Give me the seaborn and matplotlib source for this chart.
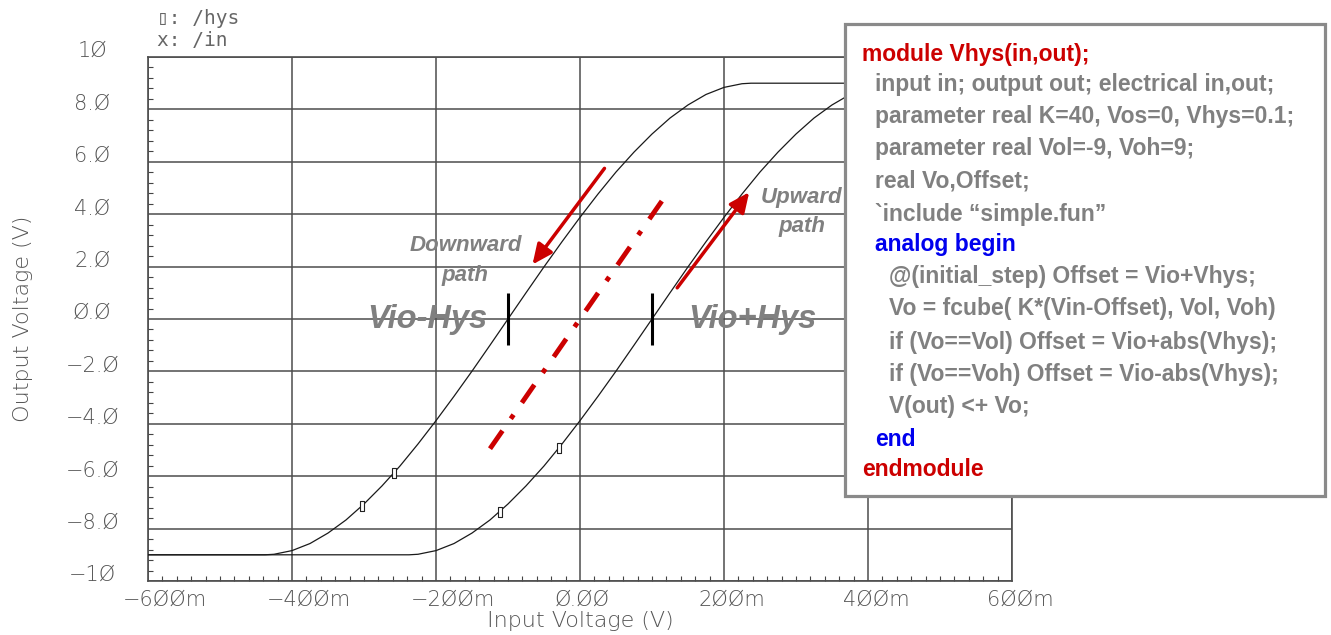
import numpy as np
import pandas as pd
import matplotlib
matplotlib.use("Agg")
import matplotlib.pyplot as plt
import matplotlib.patches as patches
import matplotlib.transforms as mtransforms
from matplotlib.ticker import MultipleLocator, FixedLocator
import seaborn as sns

# hysteresis curves (input V, output V)
down_x = [-0.6, -0.4375, -0.425, -0.4, -0.375, -0.35, -0.325, -0.3, -0.275, -0.25, -0.225,
          -0.2, -0.175, -0.15, -0.125, -0.1, -0.075, -0.05, -0.025, 0.0, 0.025, 0.05,
          0.075, 0.1, 0.125, 0.15, 0.175, 0.2, 0.225, 0.2375, 0.6]
down_y = [-9.0, -9.0, -8.98, -8.84, -8.57, -8.17, -7.67, -7.06, -6.37, -5.61, -4.77,
          -3.88, -2.95, -1.99, -1.0, 0.0, 1.0, 1.99, 2.95, 3.88, 4.77, 5.61,
          6.37, 7.06, 7.67, 8.17, 8.57, 8.84, 8.98, 9.0, 9.0]
up_x = [-0.6, -0.2375, -0.225, -0.2, -0.175, -0.15, -0.125, -0.1, -0.075, -0.05, -0.025,
        0.0, 0.025, 0.05, 0.075, 0.1, 0.125, 0.15, 0.175, 0.2, 0.225, 0.25,
        0.275, 0.3, 0.325, 0.35, 0.375, 0.4, 0.425, 0.4375, 0.6]
up_y = [-9.0, -9.0, -8.98, -8.84, -8.57, -8.17, -7.67, -7.06, -6.37, -5.61, -4.77,
        -3.88, -2.95, -1.99, -1.0, 0.0, 1.0, 1.99, 2.95, 3.88, 4.77, 5.61,
        6.37, 7.06, 7.67, 8.17, 8.57, 8.84, 8.98, 9.0, 9.0]

# small square markers on the /hys trace
mark_x = [-0.303, -0.259, -0.1115, -0.029]
mark_y = [-7.14, -5.89, -7.35, -4.91]

# switching thresholds (Vio-Hys, Vio+Hys) and the red centre line
thresh_x = [-0.1, 0.1]
mid_x = [-0.125, 0.125]
mid_y = [-4.95, 4.95]

xticks = [-0.6, -0.4, -0.2, 0.0, 0.2, 0.4, 0.6]
xtick_labels = ["−6ØØm", "−4ØØm", "−2ØØm", "Ø.ØØ", "2ØØm", "4ØØm", "6ØØm"]
yticks = [-10, -8, -6, -4, -2, 0, 2, 4, 6, 8, 10]
ytick_labels = ["−1Ø", "−8.Ø", "−6.Ø", "−4.Ø", "−2.Ø", "Ø.Ø", "2.Ø", "4.Ø", "6.Ø", "8.Ø", "1Ø"]

code_lines = ["module Vhys(in,out);",
              "input in; output out; electrical in,out;",
              "parameter real K=40, Vos=0, Vhys=0.1;",
              "parameter real Vol=-9, Voh=9;",
              "real Vo,Offset;",
              "`include \u201csimple.fun\u201d",
              "analog begin",
              "@(initial_step) Offset = Vio+Vhys;",
              "Vo = fcube( K*(Vin-Offset), Vol, Voh)",
              "if (Vo==Vol) Offset = Vio+abs(Vhys);",
              "if (Vo==Voh) Offset = Vio-abs(Vhys);",
              "V(out) <+ Vo;",
              "end",
              "endmodule"]
code_level = [0, 1, 1, 1, 1, 1, 1, 2, 2, 2, 2, 2, 1, 0]
RED = "#cc0000"
GRAY = "#808080"
BLUE = "#0000ee"
code_colors = [RED, GRAY, GRAY, GRAY, GRAY, GRAY, BLUE, GRAY, GRAY, GRAY, GRAY, GRAY, BLUE, RED]

sns.set_style("white")
narrow = ["Liberation Sans Narrow", "Liberation Sans", "DejaVu Sans"]
mono = ["DejaVu Sans Mono", "DejaVu Sans"]
axis_col = "#555555"

W, H = 1331, 635
fig = plt.figure(figsize=(W / 100, H / 100), dpi=100)
ax = fig.add_axes([148 / W, 1 - 581 / H, 864 / W, 524 / H])

df = pd.concat([pd.DataFrame({"vin": down_x, "vout": down_y, "path": "down"}),
                pd.DataFrame({"vin": up_x, "vout": up_y, "path": "up"})])
sns.lineplot(data=df, x="vin", y="vout", units="path", estimator=None, sort=False,
             color="#1a1a1a", lw=0.9, ax=ax, zorder=3)
rect_marker = [(-0.5, -1), (0.5, -1), (0.5, 1), (-0.5, 1), (-0.5, -1)]
ax.plot(mark_x, mark_y, ls="none", marker=rect_marker, ms=7, mfc="white",
        mec="#222222", mew=0.8, zorder=4)

ax.vlines(thresh_x, -1.0, 1.0, color="black", lw=2.2, zorder=5)
ax.plot(mid_x, mid_y, color=RED, lw=3.5, dashes=(4.5, 3, 1, 3), zorder=5)

arrow_kw = dict(arrowstyle="-|>,head_length=0.55,head_width=0.25", color=RED, lw=2.5,
                mutation_scale=22, shrinkA=0, shrinkB=0)
ax.annotate("", xy=(-0.066, 2.08), xytext=(0.034, 5.75), arrowprops=arrow_kw, zorder=6)
ax.annotate("", xy=(0.235, 4.84), xytext=(0.135, 1.19), arrowprops=arrow_kw, zorder=6)

note = dict(family=narrow, weight="bold", style="italic", color=GRAY, ha="center",
            va="baseline", zorder=6)
ax.text(-0.158, 2.61, "Downward", fontsize=16, **note)
ax.text(-0.160, 1.46, "path", fontsize=16, **note)
ax.text(0.308, 4.44, "Upward", fontsize=16, **note)
ax.text(0.308, 3.33, "path", fontsize=16, **note)
ax.text(-0.2125, -0.34, "Vio-Hys", fontsize=23.5, **note)
ax.text(0.239, -0.34, "Vio+Hys", fontsize=23.5, **note)

ax.set_xlim(-0.6, 0.6)
ax.set_ylim(-10, 10)
ax.xaxis.set_major_locator(FixedLocator(xticks))
ax.yaxis.set_major_locator(FixedLocator(yticks))
ax.xaxis.set_minor_locator(MultipleLocator(0.02))
ax.yaxis.set_minor_locator(MultipleLocator(0.4))
ax.set_xticklabels(xtick_labels)
ax.set_yticklabels(ytick_labels)
ax.grid(True, which="major", color="#4d4d4d", lw=1.1)
ax.tick_params(which="major", length=0, labelsize=15, labelcolor=axis_col)
ax.tick_params(axis="x", which="major", pad=6)
ax.tick_params(axis="y", which="major", pad=40)
ax.tick_params(which="minor", direction="in", length=3.4, width=0.8, color="#444444",
               left=True, bottom=True, top=False, right=False)
for s in ax.spines.values():
    s.set_visible(True)
    s.set_color("#4d4d4d")
    s.set_linewidth(1.2)

shift = mtransforms.ScaledTranslation(-25 / 100, 0, fig.dpi_scale_trans)
for lab in ax.get_xticklabels():
    lab.set_ha("left")
    lab.set_transform(lab.get_transform() + shift)
    lab.set_fontweight("light")
for lab in ax.get_yticklabels():
    lab.set_ha("center")
    lab.set_va("baseline")
    lab.set_fontweight("light")

ax.set_xlabel("Input Voltage (V)", fontsize=16, color=axis_col, fontweight="light")
ax.set_ylabel("Output Voltage (V)", fontsize=16, color=axis_col, fontweight="light")
ax.xaxis.set_label_coords(0.5, (581 - 611) / 524)
ax.yaxis.set_label_coords((33 - 148) / 864, 0.5)

fig.text(157 / W, 1 - 18 / H, "\u25af: /hys", fontsize=14, color="#666666", va="center",
         family=mono)
fig.text(157 / W, 1 - 40 / H, "x: /in", fontsize=14, color="#666666", va="center",
         family=mono)

# code listing box
box = patches.Rectangle((845 / W, 1 - 496 / H), 480 / W, 472 / H, transform=fig.transFigure,
                        facecolor="white", edgecolor="#8a8a8a", lw=2.3, zorder=10)
fig.patches.append(box)
indent_px = [862, 875, 889]
centers = [52, 83, 115, 147, 179, 212, 243, 275, 307, 340, 372, 405, 437, 468]
for line, lvl, col, yc in zip(code_lines, code_level, code_colors, centers):
    fig.text(indent_px[lvl] / W, 1 - (yc + 8.5) / H, line, family=narrow, weight="bold",
             fontsize=16.5, color=col, va="baseline", ha="left", zorder=11)

fig.savefig("out.png", dpi=100)
